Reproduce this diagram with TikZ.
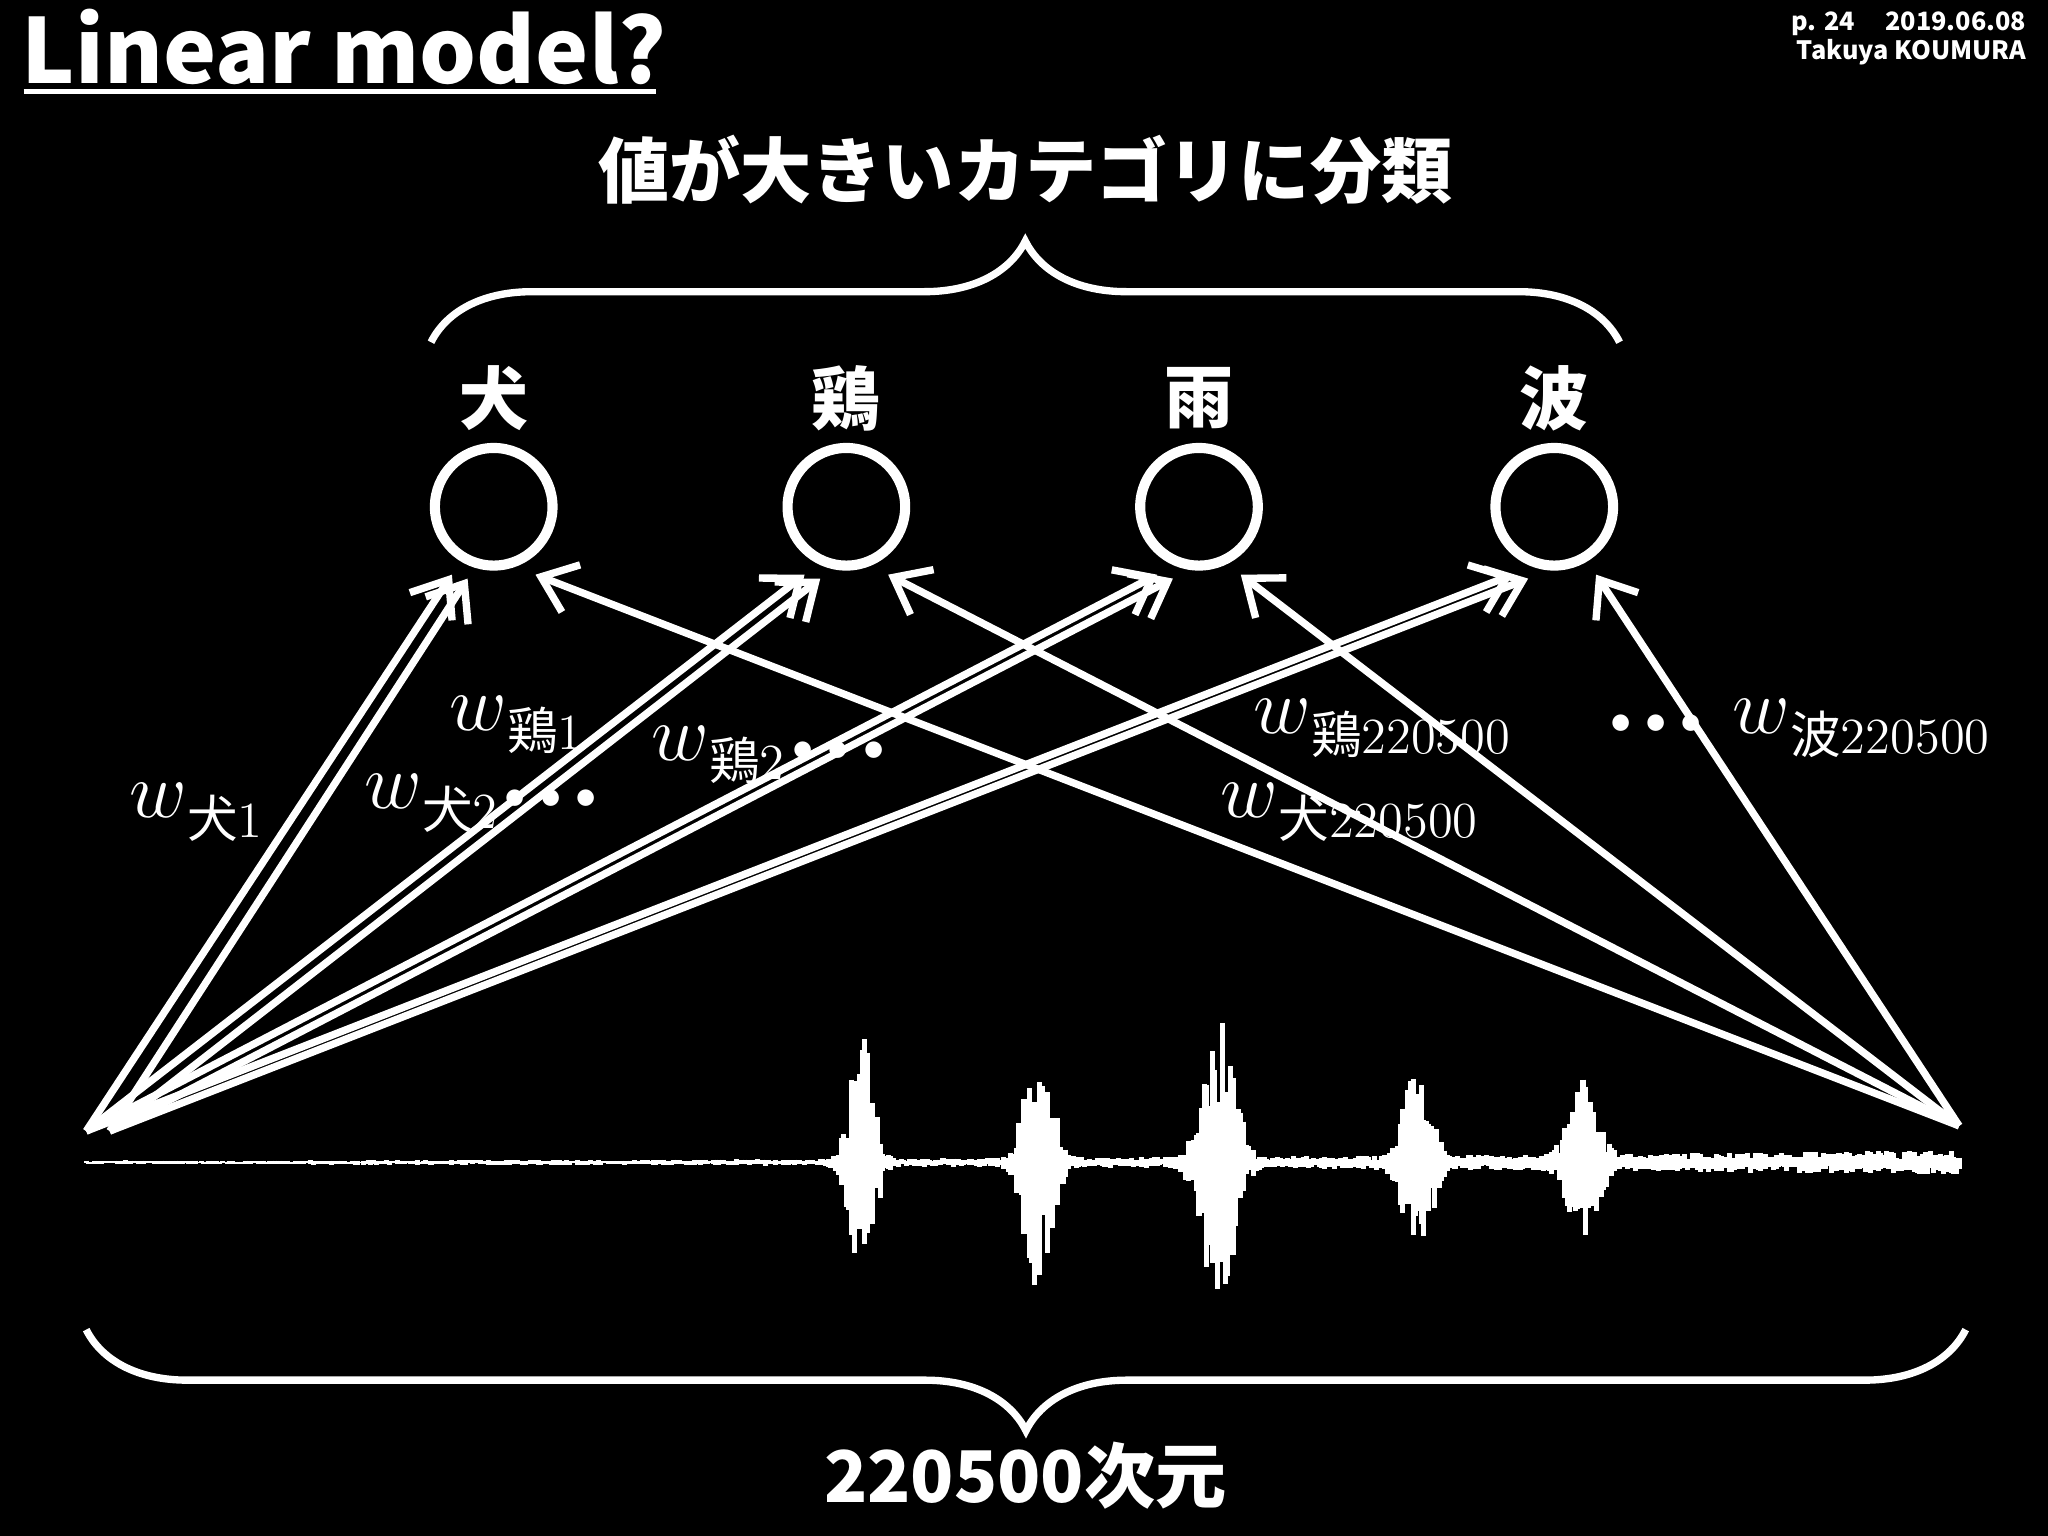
\documentclass[tikz,border=0pt]{standalone}
\usepackage{fontspec}
\setsansfont{Noto Sans CJK JP}
\newfontfamily\cjk{Noto Sans CJK JP}
\usetikzlibrary{decorations.pathreplacing,arrows.meta}
\newcommand{\wsub}[2]{{\fontsize{18}{18}\selectfont$w$}\raisebox{-1.0ex}{\fontsize{11}{11}\selectfont{\cjk #1}#2}}
\newcommand{\tdots}{{\fontsize{9}{9}\selectfont$\bullet\mkern2mu\bullet\mkern2mu\bullet$}}
\begin{document}
\begin{tikzpicture}[x=0.01cm,y=-0.01cm,
  unit/.style={circle,draw=white,line width=2.2pt,minimum size=0.9cm,inner sep=0pt},
  cat/.style={text=white,font=\cjk\fontsize{15}{15}\selectfont\bfseries},
  arr/.style={draw=white,line width=1.6pt,-{Straight Barb[length=7pt,width=11pt,line width=1.6pt]}},
  wl/.style={text=white,inner sep=0pt}]
\fill[black] (0,0) rectangle (1568,1176);
\useasboundingbox (0,0) rectangle (1568,1176);
\node[anchor=west,text=white,font=\cjk\bfseries\fontsize{19.5}{19.5}\selectfont,inner sep=0pt] (title) at (16,36) {Linear model?};
\draw[white,line width=1.2pt] (18,70) -- (502,70);
\node[anchor=north east,align=right,text=white,font=\cjk\bfseries\fontsize{5.5}{6.5}\selectfont,inner sep=0pt] (info) at (1552,8) {p. 24\hspace{1.2em}2019.06.08\\Takuya KOUMURA};
\node[text=white,font=\cjk\bfseries\fontsize{15.5}{15.5}\selectfont] (top) at (785,130) {値が大きいカテゴリに分類};
\draw[white,line width=1.6pt,decorate,decoration={brace,amplitude=22pt}] (330,262) -- (1240,262);
\foreach \n/\x/\t in {a/378/犬,b/648/鶏,c/918/雨,d/1190/波}{
  \node[unit] (\n) at (\x,388) {};
  \node[cat] (l\n) at (\x,305) {\t};
}
\coordinate (s1) at (66,866);
\coordinate (s2) at (84,866);
\coordinate (sr) at (1500,862);
\foreach \n/\x in {a/378,b/648,c/918,d/1190}{
  \draw[arr] (s1) -- (\x-32,440);
  \draw[arr] (s2) -- (\x-20,443);
  \draw[arr] (sr) -- (\x+32,440);
}
% waveform
\pgfmathsetseed{7}
\foreach \x in {66,68,...,1500}{
  \pgfmathsetmacro{\e}{1.5+8*((\x-66)/1434)^2
    +95*exp(-((\x-660)/12)^2)+95*exp(-((\x-795)/14)^2)+110*exp(-((\x-933)/16)^2)
    +70*exp(-((\x-1085)/14)^2)+65*exp(-((\x-1212)/14)^2)}
  \pgfmathsetmacro{\u}{\e*(0.3+0.7*rnd)}
  \pgfmathsetmacro{\d}{\e*(0.3+0.7*rnd)}
  \draw[white,line width=1.1pt] (\x,890-\u) -- (\x,890+\d);
}
\draw[white,line width=1.6pt,decorate,decoration={brace,amplitude=22pt,mirror}] (66,1018) -- (1505,1018);
\node[text=white,font=\cjk\bfseries\fontsize{15.5}{15.5}\selectfont] (dim) at (785,1130) {220500次元};
% labels
\node[wl] (w1) at (150,622) {\wsub{犬}{1}};
\node[wl] (w2) at (368,615) {\wsub{犬}{2}\,\tdots};
\node[wl] (w3) at (395,555) {\wsub{鶏}{1}};
\node[wl] (w4) at (588,578) {\wsub{鶏}{2}\,\tdots};
\node[wl] (w5) at (1058,558) {\wsub{鶏}{220500}};
\node[wl] (w6) at (1033,622) {\wsub{犬}{220500}};
\node[wl] (w7) at (1378,558) {\tdots\ \ \wsub{波}{220500}};
\end{tikzpicture}
\end{document}
